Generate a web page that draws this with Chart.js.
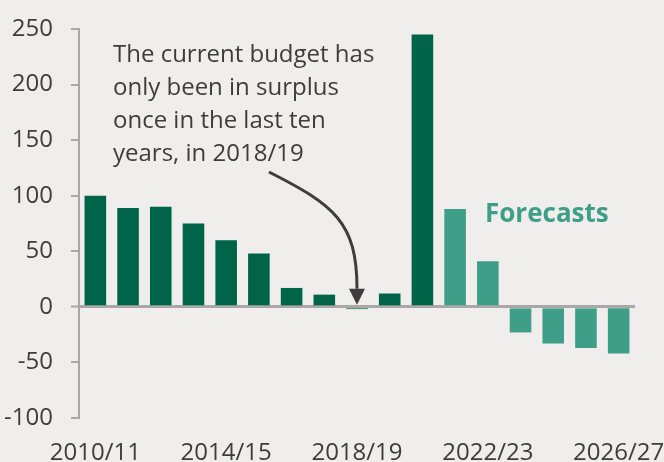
<!DOCTYPE html>
<html>
<head>
<meta charset="utf-8">
<script src="https://cdn.jsdelivr.net/npm/chart.js@4/dist/chart.umd.min.js"></script>
<style>
html,body{margin:0;padding:0;background:#efeeec;}
#wrap{width:664px;height:462px;position:relative;}
</style>
</head>
<body>
<div id="wrap"><canvas id="c" width="664" height="462"></canvas></div>
<script>
const categories = ["2010/11","2011/12","2012/13","2013/14","2014/15","2015/16","2016/17","2017/18","2018/19","2019/20","2020/21","2021/22","2022/23","2023/24","2024/25","2025/26","2026/27"];
const budgetValues = [100, 89, 90, 75, 60, 48, 17, 11, -2, 12, 245, 88, 41, -23, -33, -37, -42];
const isForecast = [false,false,false,false,false,false,false,false,false,false,false,true,true,true,true,true,true];
const yTicks = [-100, -50, 0, 50, 100, 150, 200, 250];
const annotationLines = ["The current budget has","only been in surplus","once in the last ten","years, in 2018/19"];
const forecastLabel = "Forecasts";
const surplusYear = "2018/19";

const DARK = '#006548';
const TEAL = '#3f9e87';
const AXIS = '#a9a8a6';
const TEXT = '#3d3d3d';
const FONT = "'Open Sans', sans-serif";

const annotPlugin = {
  id: 'annot',
  afterDatasetsDraw(chart) {
    const ctx = chart.ctx;
    const ca = chart.chartArea;
    const x = chart.scales.x, y = chart.scales.y;
    ctx.save();
    ctx.fillStyle = TEXT;
    ctx.font = "24px " + FONT;
    ctx.textBaseline = 'middle';
    ctx.textAlign = 'left';
    annotationLines.forEach((t, i) => {
      ctx.fillText(t, ca.left + 34, ca.top + 26 + i * 33);
    });
    ctx.fillStyle = TEAL;
    ctx.font = "bold 26px " + FONT;
    ctx.fillText(forecastLabel, ca.left + 406, ca.top + 186);
    const idx = categories.indexOf(surplusYear);
    const tx = x.getPixelForValue(idx);
    const ty = y.getPixelForValue(2);
    const sx = ca.left + 190, sy = ca.top + 143;
    const headH = 16, headW = 8;
    ctx.strokeStyle = TEXT;
    ctx.lineWidth = 3;
    ctx.beginPath();
    ctx.moveTo(sx, sy);
    ctx.bezierCurveTo(sx + 65, sy + 33, tx, sy + 50, tx, ty - headH);
    ctx.stroke();
    ctx.fillStyle = TEXT;
    ctx.beginPath();
    ctx.moveTo(tx, ty);
    ctx.lineTo(tx - headW, ty - headH);
    ctx.lineTo(tx + headW, ty - headH);
    ctx.closePath();
    ctx.fill();
    ctx.restore();
  }
};

new Chart(document.getElementById('c'), {
  type: 'bar',
  data: {
    labels: categories,
    datasets: [{
      data: budgetValues,
      backgroundColor: isForecast.map(f => f ? TEAL : DARK),
      borderWidth: 0,
      barPercentage: 0.66,
      categoryPercentage: 1.0
    }]
  },
  options: {
    responsive: false,
    animation: false,
    devicePixelRatio: 1,
    layout: { padding: { top: 29, right: 29, left: 0, bottom: 0 } },
    plugins: { legend: { display: false }, tooltip: { enabled: false } },
    scales: {
      x: {
        grid: { display: false },
        border: { display: false },
        ticks: {
          autoSkip: false,
          maxRotation: 0,
          minRotation: 0,
          padding: 13,
          color: TEXT,
          font: { family: FONT, size: 24 },
          callback: function(v, i) { return i % 4 === 0 ? categories[i] : ''; }
        },
        afterFit: s => { s.height = 44; s.paddingLeft = 0; s.paddingRight = 0; }
      },
      y: {
        min: -100,
        max: 250,
        afterBuildTicks: s => { s.ticks = yTicks.map(v => ({ value: v })); },
        grid: {
          drawOnChartArea: true,
          drawTicks: true,
          tickLength: 8,
          color: c => (c.tick && c.tick.value === 0) ? AXIS : 'rgba(0,0,0,0)',
          tickColor: AXIS,
          lineWidth: c => (c.tick && c.tick.value === 0) ? 3 : 2,
          tickWidth: 2
        },
        border: { display: true, color: AXIS, width: 2 },
        ticks: {
          padding: 18,
          color: TEXT,
          font: { family: FONT, size: 24 }
        },
        afterFit: s => { s.width = 79; s.paddingTop = 0; s.paddingBottom = 0; }
      }
    }
  },
  plugins: [annotPlugin]
});
</script>
</body>
</html>
